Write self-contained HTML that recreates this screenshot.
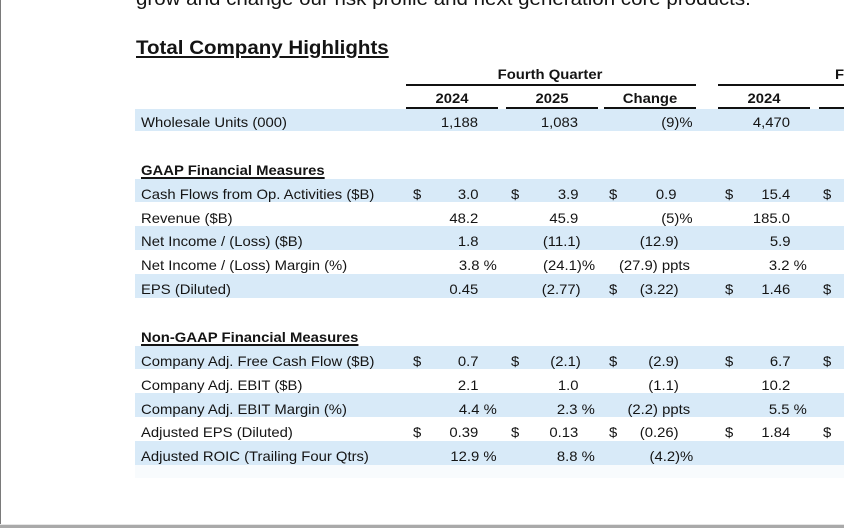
<!DOCTYPE html>
<html><head><meta charset="utf-8">
<style>
html,body{margin:0;padding:0;}
body{width:844px;height:528px;position:relative;overflow:hidden;background:#fff;font-family:"Liberation Sans",Arial,sans-serif;color:#141414;}
.b{position:absolute;left:135px;width:709px;background:#d8eaf8;}
.ln{position:absolute;height:2px;background:#111;}
.t{position:absolute;font-size:14px;line-height:16px;white-space:nowrap;transform:scaleX(1.06);transform-origin:left center;}
.r{transform-origin:right center;text-align:right;}
.c{width:120px;text-align:center;transform-origin:center center;}
.bd{font-weight:bold;}
.u{text-decoration:underline;text-decoration-thickness:1.5px;text-underline-offset:2px;}
</style></head><body>
<div style="position:absolute;left:0;top:0;width:1px;height:528px;background:#7a7a7a;"></div>
<div style="position:absolute;left:0;top:524px;width:844px;height:1px;background:#e6e6e6;"></div>
<div style="position:absolute;left:0;top:525px;width:844px;height:3px;background:#a9a9a9;"></div>

<div style="position:absolute;left:136px;top:-11px;font-size:19px;line-height:22px;white-space:nowrap;transform:scaleX(1.08);transform-origin:left center;">grow and change our risk profile and next generation core products.</div>
<div style="position:absolute;left:136px;top:38px;font-size:19px;line-height:22px;font-weight:bold;white-space:nowrap;transform:scaleX(1.08);transform-origin:left center;text-decoration:underline;text-decoration-thickness:2px;text-underline-offset:2px;">Total Company Highlights</div>

<!-- bands -->
<div class="b" style="top:109px;height:22px;"></div>
<div class="b" style="top:179px;height:23px;"></div>
<div class="b" style="top:226px;height:24px;"></div>
<div class="b" style="top:274px;height:24px;"></div>
<div class="b" style="top:346px;height:23px;"></div>
<div class="b" style="top:393px;height:24px;"></div>
<div class="b" style="top:441px;height:24px;"></div>
<div style="position:absolute;left:135px;top:465px;width:709px;height:13px;background:#f8fbfd;"></div>

<!-- header lines -->
<div class="ln" style="left:406px;width:290px;top:84px;"></div>
<div class="ln" style="left:718px;width:126px;top:84px;"></div>
<div class="ln" style="left:406px;width:92px;top:107px;"></div>
<div class="ln" style="left:506px;width:92px;top:107px;"></div>
<div class="ln" style="left:604px;width:92px;top:107px;"></div>
<div class="ln" style="left:718px;width:92px;top:107px;"></div>
<div class="ln" style="left:819px;width:25px;top:107px;"></div>

<!-- headers -->
<div class="t c bd" style="left:490px;top:66px;">Fourth Quarter</div>
<div class="t bd" style="left:835px;top:66px;">F</div>
<div class="t c bd" style="left:392px;top:90px;">2024</div>
<div class="t c bd" style="left:492px;top:90px;">2025</div>
<div class="t c bd" style="left:590px;top:90px;">Change</div>
<div class="t c bd" style="left:704px;top:90px;">2024</div>

<!-- labels -->
<div class="t" style="left:141px;top:114px;">Wholesale Units (000)</div>
<div class="t bd u" style="left:141px;top:162px;">GAAP Financial Measures</div>
<div class="t" style="left:141px;top:186px;">Cash Flows from Op. Activities ($B)</div>
<div class="t" style="left:141px;top:209.5px;">Revenue ($B)</div>
<div class="t" style="left:141px;top:233px;">Net Income / (Loss) ($B)</div>
<div class="t" style="left:141px;top:257px;">Net Income / (Loss) Margin (%)</div>
<div class="t" style="left:141px;top:281px;">EPS (Diluted)</div>
<div class="t bd u" style="left:141px;top:328.5px;">Non-GAAP Financial Measures</div>
<div class="t" style="left:141px;top:353px;">Company Adj. Free Cash Flow ($B)</div>
<div class="t" style="left:141px;top:377px;">Company Adj. EBIT ($B)</div>
<div class="t" style="left:141px;top:400.5px;">Company Adj. EBIT Margin (%)</div>
<div class="t" style="left:141px;top:424px;">Adjusted EPS (Diluted)</div>
<div class="t" style="left:141px;top:448px;">Adjusted ROIC (Trailing Four Qtrs)</div>

<!-- Wholesale -->
<div class="t r" style="right:365.5px;top:114px;">1,188</div>
<div class="t r" style="right:265.5px;top:114px;">1,083</div>
<div class="t r" style="right:151px;top:114px;">(9)%</div>
<div class="t r" style="right:54px;top:114px;">4,470</div>

<!-- Cash flows -->
<div class="t" style="left:413px;top:186px;">$</div>
<div class="t" style="left:511px;top:186px;">$</div>
<div class="t" style="left:609px;top:186px;">$</div>
<div class="t" style="left:725px;top:186px;">$</div>
<div class="t" style="left:823px;top:186px;">$</div>
<div class="t r" style="right:365.5px;top:186px;">3.0</div>
<div class="t r" style="right:265.5px;top:186px;">3.9</div>
<div class="t r" style="right:167.5px;top:186px;">0.9</div>
<div class="t r" style="right:54px;top:186px;">15.4</div>

<!-- Revenue -->
<div class="t r" style="right:365.5px;top:209.5px;">48.2</div>
<div class="t r" style="right:265.5px;top:209.5px;">45.9</div>
<div class="t r" style="right:151px;top:209.5px;">(5)%</div>
<div class="t r" style="right:54px;top:209.5px;">185.0</div>

<!-- Net income -->
<div class="t r" style="right:365.5px;top:233px;">1.8</div>
<div class="t r" style="right:263.5px;top:233px;">(11.1)</div>
<div class="t r" style="right:165.5px;top:233px;">(12.9)</div>
<div class="t r" style="right:54px;top:233px;">5.9</div>

<!-- Net income margin -->
<div class="t r" style="right:347px;top:257px;">3.8 %</div>
<div class="t r" style="right:249px;top:257px;">(24.1)%</div>
<div class="t r" style="right:154px;top:257px;">(27.9) ppts</div>
<div class="t r" style="right:37px;top:257px;">3.2 %</div>

<!-- EPS -->
<div class="t r" style="right:365.5px;top:281px;">0.45</div>
<div class="t r" style="right:263.5px;top:281px;">(2.77)</div>
<div class="t" style="left:609px;top:281px;">$</div>
<div class="t r" style="right:165.5px;top:281px;">(3.22)</div>
<div class="t" style="left:725px;top:281px;">$</div>
<div class="t r" style="right:54px;top:281px;">1.46</div>
<div class="t" style="left:823px;top:281px;">$</div>

<!-- FCF -->
<div class="t" style="left:413px;top:353px;">$</div>
<div class="t r" style="right:365.5px;top:353px;">0.7</div>
<div class="t" style="left:511px;top:353px;">$</div>
<div class="t r" style="right:263.5px;top:353px;">(2.1)</div>
<div class="t" style="left:609px;top:353px;">$</div>
<div class="t r" style="right:165.5px;top:353px;">(2.9)</div>
<div class="t" style="left:725px;top:353px;">$</div>
<div class="t r" style="right:54px;top:353px;">6.7</div>
<div class="t" style="left:823px;top:353px;">$</div>

<!-- EBIT -->
<div class="t r" style="right:365.5px;top:377px;">2.1</div>
<div class="t r" style="right:265.5px;top:377px;">1.0</div>
<div class="t r" style="right:165.5px;top:377px;">(1.1)</div>
<div class="t r" style="right:54px;top:377px;">10.2</div>

<!-- EBIT margin -->
<div class="t r" style="right:347px;top:400.5px;">4.4 %</div>
<div class="t r" style="right:249px;top:400.5px;">2.3 %</div>
<div class="t r" style="right:154px;top:400.5px;">(2.2) ppts</div>
<div class="t r" style="right:37px;top:400.5px;">5.5 %</div>

<!-- Adj EPS -->
<div class="t" style="left:413px;top:424px;">$</div>
<div class="t r" style="right:365.5px;top:424px;">0.39</div>
<div class="t" style="left:511px;top:424px;">$</div>
<div class="t r" style="right:265.5px;top:424px;">0.13</div>
<div class="t" style="left:609px;top:424px;">$</div>
<div class="t r" style="right:165.5px;top:424px;">(0.26)</div>
<div class="t" style="left:725px;top:424px;">$</div>
<div class="t r" style="right:54px;top:424px;">1.84</div>
<div class="t" style="left:823px;top:424px;">$</div>

<!-- ROIC -->
<div class="t r" style="right:347px;top:448px;">12.9 %</div>
<div class="t r" style="right:249px;top:448px;">8.8 %</div>
<div class="t r" style="right:151px;top:448px;">(4.2)%</div>
</body></html>
